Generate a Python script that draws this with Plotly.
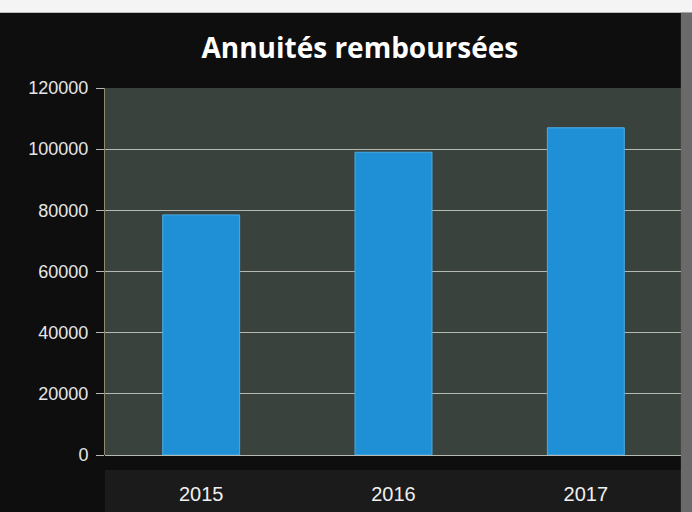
import plotly.graph_objects as go

years = ["2015", "2016", "2017"]
annuites = [78500, 99000, 107000]
y_ticks = [0, 20000, 40000, 60000, 80000, 100000, 120000]

fig = go.Figure(
    go.Bar(
        x=years,
        y=annuites,
        marker=dict(color="#1f8fd6", line=dict(color="#48aee6", width=1)),
        width=0.4,
    )
)

fig.update_layout(
    width=692,
    height=512,
    margin=dict(l=105, r=10, t=88, b=57),
    paper_bgcolor="#0e0e0e",
    plot_bgcolor="#3a423d",
    showlegend=False,
    title=dict(
        text="<b>Annuités remboursées</b>",
        x=0.52,
        xanchor="center",
        y=0.905,
        yanchor="middle",
        font=dict(family="Open Sans, Noto Sans, sans-serif", size=28, color="#ffffff"),
    ),
    shapes=[
        dict(type="rect", xref="paper", yref="paper", x0=0, x1=1.02, y0=-0.041, y1=-0.16,
             fillcolor="#1b1b1b", line=dict(width=0), layer="below"),
        dict(type="rect", xref="paper", yref="paper", x0=-0.2, x1=1.03, y0=1.205, y1=1.24,
             fillcolor="#f4f4f4", line=dict(width=0)),
        dict(type="rect", xref="paper", yref="paper", x0=0.998, x1=1.03, y0=-0.16, y1=1.205,
             fillcolor="#6a6a6a", line=dict(width=0)),
    ],
)

fig.update_xaxes(
    type="category",
    tickfont=dict(family="Liberation Sans, Arial, sans-serif", size=20, color="#f0f0f0"),
    ticklabelstandoff=25,
    automargin=False,
    showgrid=False,
    showline=False,
    ticks="",
)

fig.update_yaxes(
    range=[0, 120000],
    tickvals=y_ticks,
    ticktext=[str(v) for v in y_ticks],
    tickfont=dict(family="Liberation Sans, Arial, sans-serif", size=18, color="#e6e6e6"),
    automargin=False,
    showgrid=True,
    gridcolor="#b4b8b0",
    gridwidth=1,
    zeroline=True,
    zerolinecolor="#b4b8b0",
    zerolinewidth=1,
    showline=True,
    linecolor="#8c8c70",
    linewidth=1,
    ticks="outside",
    ticklen=8,
    tickcolor="#b4b8b0",
    ticklabelstandoff=4,
)

fig.write_html(
    "out.html",
    config={"displayModeBar": False, "responsive": False},
    post_script="document.body.style.margin='0';document.body.style.overflow='hidden';document.body.style.background='#0e0e0e';",
)
